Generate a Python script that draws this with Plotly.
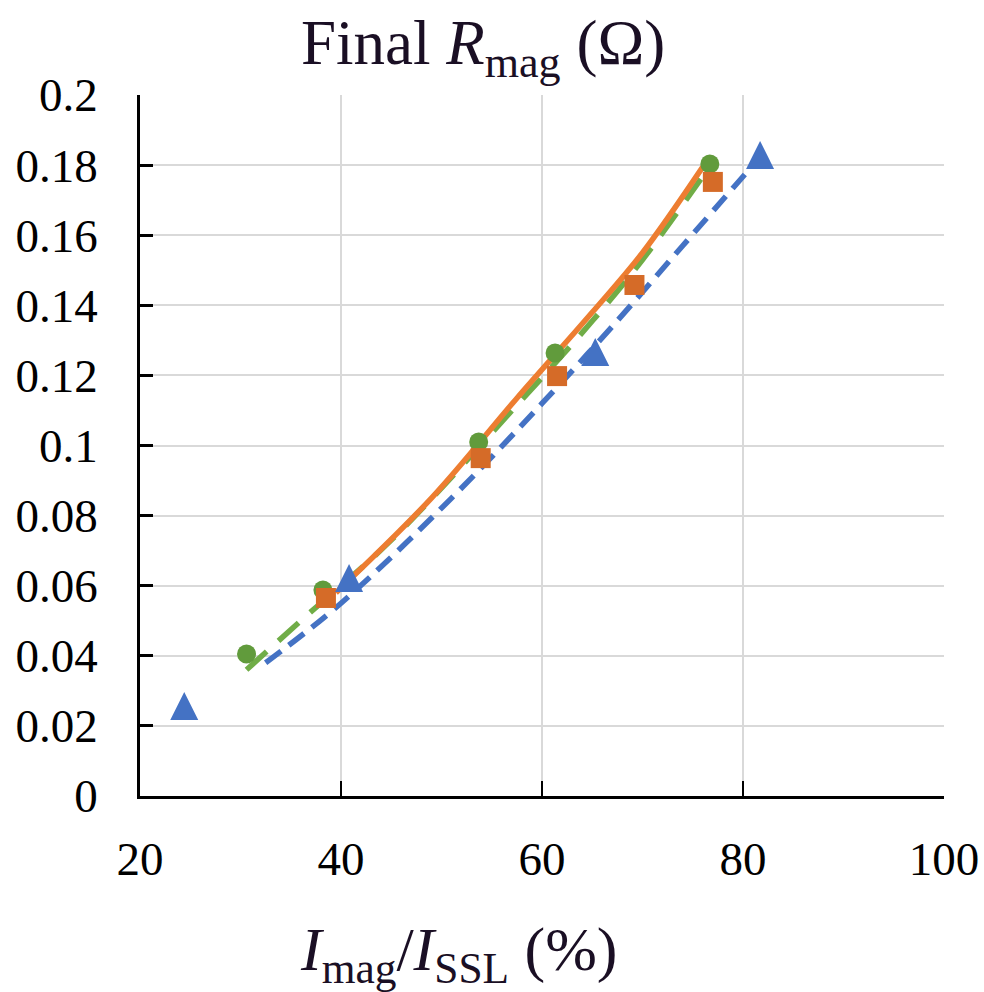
import plotly.graph_objects as go

# Measured points: x = I_mag / I_SSL (%), y = final R_mag (Ohm)
tri_x = [24.4, 40.8, 65.3, 81.7]
tri_y = [0.0257, 0.0622, 0.1267, 0.1829]

circ_x = [30.6, 38.2, 53.7, 61.3, 76.7]
circ_y = [0.0405, 0.0588, 0.1010, 0.1264, 0.1803]

sq_x = [38.5, 53.9, 61.5, 69.2, 77.0]
sq_y = [0.0565, 0.0964, 0.1198, 0.1458, 0.1752]

# Trend curves
blue_fit_x = [32.5, 40, 51, 60, 67, 74, 81]
blue_fit_y = [0.038, 0.055, 0.085, 0.112, 0.134, 0.157, 0.180]

green_fit_x = [30.6, 36, 45, 57.5, 65, 70, 75.8]
green_fit_y = [0.036, 0.050, 0.073, 0.1115, 0.1355, 0.153, 0.176]

orange_fit_x = [39.5, 49, 57.5, 65, 70, 76]
orange_fit_y = [0.058, 0.085, 0.1135, 0.138, 0.155, 0.1795]

x_ticks = [20, 40, 60, 80, 100]
y_ticks = [0, 0.02, 0.04, 0.06, 0.08, 0.1, 0.12, 0.14, 0.16, 0.18, 0.2]
y_tick_text = ["0", "0.02", "0.04", "0.06", "0.08", "0.1", "0.12", "0.14", "0.16", "0.18", "0.2"]

BLUE = "#4472C4"
GREEN_LINE = "#70AD47"
GREEN_MARK = "#619B3C"
ORANGE_LINE = "#ED7D31"
ORANGE_MARK = "#D56B28"
FONT = "Liberation Serif"

fig = go.Figure()

fig.add_trace(go.Scatter(x=blue_fit_x, y=blue_fit_y, mode="lines", line_shape="spline",
                         line=dict(color=BLUE, width=5.5, dash="19px,10px"), hoverinfo="skip"))
fig.add_trace(go.Scatter(x=green_fit_x, y=green_fit_y, mode="lines", line_shape="spline",
                         line=dict(color=GREEN_LINE, width=5.5, dash="27px,16px"), hoverinfo="skip"))
fig.add_trace(go.Scatter(x=orange_fit_x, y=orange_fit_y, mode="lines", line_shape="spline",
                         line=dict(color=ORANGE_LINE, width=5.5), hoverinfo="skip"))

fig.add_trace(go.Scatter(x=circ_x, y=circ_y, mode="markers",
                         marker=dict(symbol="circle", size=19, color=GREEN_MARK, line=dict(width=0))))
fig.add_trace(go.Scatter(x=sq_x, y=sq_y, mode="markers",
                         marker=dict(symbol="square", size=20, color=ORANGE_MARK, line=dict(width=0))))
# upward triangle centred on the point: a flipped arrow-down shifted by half its height
fig.add_trace(go.Scatter(x=tri_x, y=tri_y, mode="markers",
                         marker=dict(symbol="arrow-down", angle=180, size=28, standoff=14, color=BLUE,
                                     line=dict(width=0))))

fig.update_layout(
    width=984, height=992,
    margin=dict(l=140, r=40, t=95, b=196),
    paper_bgcolor="white", plot_bgcolor="white",
    showlegend=False,
    font=dict(family=FONT, color="black"),
    annotations=[
        dict(text="Final <i>R</i><sub>mag</sub> (Ω)", xref="paper", yref="paper",
             x=0.427, y=1.068, xanchor="center", yanchor="middle", showarrow=False,
             font=dict(family=FONT, size=63, color="#1a0f24")),
        dict(text="<i>I</i><sub>mag</sub>/<i>I</i><sub>SSL</sub> (%)", xref="paper", yref="paper",
             x=0.397, y=-0.225, xanchor="center", yanchor="middle", showarrow=False,
             font=dict(family=FONT, size=62, color="#1a0f24")),
    ],
)

fig.update_xaxes(
    range=[20, 100], tickvals=x_ticks, ticktext=[str(v) for v in x_ticks],
    showgrid=True, gridcolor="#D9D9D9", gridwidth=2,
    showline=True, linecolor="black", linewidth=2.5,
    ticks="inside", ticklen=15, tickwidth=2, tickcolor="black",
    tickfont=dict(family=FONT, size=47, color="black"), ticklabelstandoff=20,
    ticklabeloverflow="allow", automargin=False,
    zeroline=False,
)
fig.update_yaxes(
    range=[0, 0.2], tickvals=y_ticks, ticktext=y_tick_text,
    showgrid=True, gridcolor="#D9D9D9", gridwidth=2,
    showline=True, linecolor="black", linewidth=2.5,
    ticks="inside", ticklen=13, tickwidth=3, tickcolor="black",
    tickfont=dict(family=FONT, size=47, color="black"), ticklabelstandoff=30,
    automargin=False,
    zeroline=False,
)

fig.write_html("out.html")
